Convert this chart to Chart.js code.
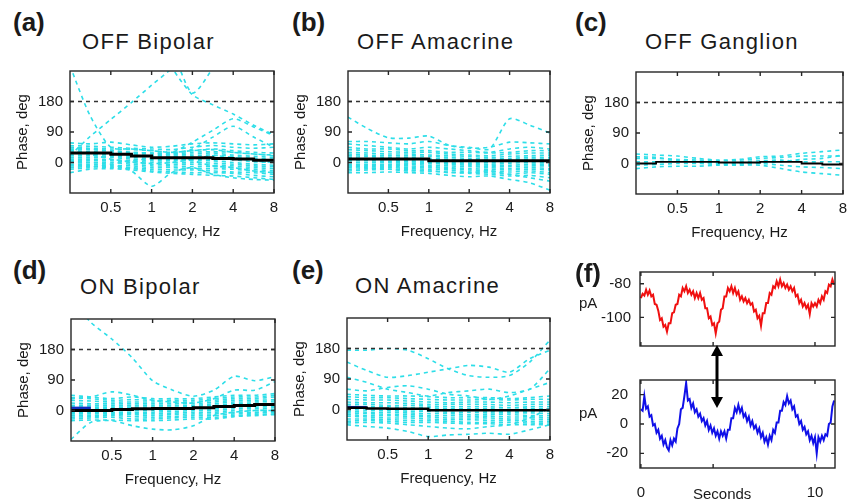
<!DOCTYPE html>
<html>
<head>
<meta charset="utf-8">
<script src="https://cdn.jsdelivr.net/npm/chart.js@4.4.1/dist/chart.umd.min.js"></script>
<style>
  body { margin: 0; width: 856px; height: 503px; background: #fff; overflow: hidden; position: relative;
         font-family: 'Liberation Sans', Arial, sans-serif; color: #1a1a1a; }
  canvas { position: absolute; }
  .lbl { position: absolute; line-height: 1; white-space: nowrap; }
  .tag { font-weight: bold; font-size: 26px; }
  .ttl { font-size: 22px; letter-spacing: 1.3px; }
  .unit { font-size: 15px; }
  svg { position: absolute; z-index: 5; }
</style>
</head>
<body>

<div class="lbl tag" style="left:13px;top:9px">(a)</div>
<div class="lbl ttl" style="left:82px;top:31px">OFF Bipolar</div>
<div class="lbl tag" style="left:292px;top:9px">(b)</div>
<div class="lbl ttl" style="left:357px;top:31px">OFF Amacrine</div>
<div class="lbl tag" style="left:575px;top:9px">(c)</div>
<div class="lbl ttl" style="left:645px;top:31px">OFF Ganglion</div>
<div class="lbl tag" style="left:13px;top:257px">(d)</div>
<div class="lbl ttl" style="left:80px;top:276px">ON Bipolar</div>
<div class="lbl tag" style="left:292px;top:257px">(e)</div>
<div class="lbl ttl" style="left:355px;top:275px">ON Amacrine</div>

<canvas id="chart-a" width="286" height="198" style="left:0px;top:55px"></canvas>
<canvas id="chart-b" width="284" height="198" style="left:278px;top:55px"></canvas>
<canvas id="chart-c" width="289" height="198" style="left:566px;top:56px"></canvas>
<canvas id="chart-d" width="286" height="198" style="left:1px;top:303px"></canvas>
<canvas id="chart-e" width="285" height="198" style="left:277px;top:302px"></canvas>
<canvas id="chart-f1" width="285" height="110" style="left:560px;top:254px"></canvas>
<canvas id="chart-f2" width="285" height="144" style="left:560px;top:359px"></canvas>

<div class="lbl tag" style="left:575px;top:260px;z-index:3">(f)</div>
<div class="lbl unit" style="left:579px;top:295px">pA</div>
<div class="lbl unit" style="left:579px;top:405px">pA</div>
<div class="lbl unit" style="left:693px;top:486px">Seconds</div>

<svg width="24" height="75" style="left:705px;top:340px">
  <line x1="12" y1="14" x2="12" y2="59" stroke="#000" stroke-width="3"/>
  <polygon points="12,5 6,16 18,16" fill="#000"/>
  <polygon points="12,68 6,57 18,57" fill="#000"/>
</svg>

<script>
/* ── DATA ─────────────────────────────────────────────────────── */
// frequency grid of the phase curves (Hz) and axis ticks
const freqs      = [0.25, 0.35, 0.5, 0.71, 1, 1.41, 2, 2.83, 4, 5.66, 8];
const freqTicks  = [0.5, 1, 2, 4, 8];
const phaseTicks = [0, 90, 180];
const refPhase   = 180;

// (a) OFF Bipolar
const offBipolarMean = [28, 28, 24, 19, 14, 14, 14, 12, 10, 7, 5];
const offBipolarTraces = [
  [58, 55, 60, 52, 45, 48, 55, 58, 55, 52, 55],
  [50, 48, 45, 42, 40, 38, 45, 50, 45, 42, 45],
  [45, 42, 40, 38, 35, 30, 35, 40, 35, 30, 28],
  [40, 38, 35, 30, 28, 25, 30, 32, 30, 25, 20],
  [35, 32, 30, 28, 25, 22, 25, 28, 22, 18, 15],
  [30, 30, 28, 25, 20, 18, 20, 22, 18, 12, 10],
  [25, 25, 22, 20, 15, 15, 15, 15, 12, 8, 5],
  [20, 20, 18, 15, 10, 10, 10, 10, 8, 2, 0],
  [15, 15, 15, 10, 5, 5, 5, 5, 0, -5, -8],
  [10, 10, 8, 5, 0, 0, 0, -2, -5, -10, -12],
  [5, 5, 5, 0, -5, -5, -5, -8, -10, -15, -18],
  [0, 0, 0, -5, -10, -10, -12, -12, -15, -20, -25],
  [-5, -5, -8, -10, -15, -15, -18, -18, -20, -25, -30],
  [-10, -10, -12, -15, -20, -22, -22, -25, -28, -30, -35],
  [-15, -12, -15, -18, -25, -28, -30, -30, -32, -38, -42],
  [-30, -20, -18, -22, -28, -32, -35, -38, -40, -45, -50],
  [40, 25, 10, 2, -3, 0, 10, 20, 15, 5, 0],
  [-20, -15, -5, 5, 12, 15, 5, -10, -15, -25, -30],
  [285, 140, 45, 40, 35, 30, 35, 38, 30, 25, 22],
  [20, 76, 127, 177, 228, 278, 340, 400, 400, 400, 400],
  [400, 400, 400, 400, 380, 280, 200, 170, 143, 110, 82],
  [400, 400, 400, 400, 400, 330, 205, 280, 400, 400, 400],
  [45, 40, 35, 30, 28, 30, 60, 95, 129, 105, 79],
  [30, 28, 25, 20, 20, 25, 40, 75, 107, 75, 45],
  [5, 0, -5, -25, -70, -30, -15, -35, -45, -50, -52]
];

// (b) OFF Amacrine
const offAmacrineMean = [10, 10, 10, 10, 5, 5, 5, 5, 5, 5, 5];
const offAmacrineTraces = [
  [55, 50, 45, 40, 45, 40, 35, 30, 40, 45, 40],
  [45, 40, 40, 35, 35, 30, 30, 28, 30, 35, 35],
  [38, 35, 32, 30, 30, 25, 22, 20, 25, 28, 28],
  [30, 28, 25, 25, 22, 20, 18, 15, 18, 20, 22],
  [25, 22, 20, 20, 18, 15, 12, 10, 12, 15, 15],
  [20, 18, 15, 15, 12, 10, 8, 5, 8, 10, 10],
  [15, 12, 12, 10, 8, 5, 2, 0, 2, 5, 5],
  [10, 8, 8, 5, 3, 0, -2, -5, -2, 0, 0],
  [5, 5, 3, 2, 0, -3, -5, -8, -8, -5, -5],
  [0, 0, 0, -2, -3, -5, -8, -12, -12, -10, -10],
  [-5, -5, -5, -5, -8, -10, -12, -15, -18, -15, -18],
  [-10, -8, -8, -10, -12, -15, -18, -20, -22, -20, -22],
  [-15, -12, -12, -14, -15, -18, -22, -25, -28, -25, -30],
  [-20, -18, -15, -18, -20, -22, -28, -30, -35, -30, -35],
  [-25, -22, -20, -22, -25, -28, -32, -35, -40, -38, -45],
  [134, 100, 73, 72, 78, 51, 45, 40, 129, 110, 87],
  [62, 62, 58, 55, 62, 50, 42, 45, 60, 58, 55],
  [-30, -30, -28, -30, -32, -38, -42, -40, -50, -60, -82],
  [-10, -15, -20, -25, -25, -30, -30, -25, -35, -45, -55]
];

// (c) OFF Ganglion
const offGanglionMean = [0, 5, 5, 5, 3, 3, 5, 5, 0, -3, -5];
const offGanglionTraces = [
  [28, 25, 22, 15, 10, 12, 20, 22, 30, 35, 40],
  [15, 15, 12, 10, 8, 10, 15, 18, 22, 22, 22],
  [5, 5, 8, 5, 2, 5, 8, 10, 5, 5, 5],
  [-5, -3, 0, 0, -3, -2, 0, -5, -10, -12, -15],
  [-15, -10, -8, -8, -5, -5, -5, -15, -25, -30, -35],
  [20, 18, 10, 5, 0, 0, 2, 5, 12, 15, 25]
];

// (d) ON Bipolar
const onBipolarMean = [0, 0, 3, 5, 6, 6, 8, 12, 15, 18, 20];
const onBipolarEarly = [7, 7];
const onBipolarTraces = [
  [45, 40, 35, 40, 35, 35, 35, 40, 45, 45, 50],
  [38, 35, 30, 32, 30, 30, 30, 35, 40, 40, 45],
  [30, 28, 25, 25, 25, 25, 25, 30, 35, 35, 40],
  [22, 20, 20, 20, 20, 20, 20, 25, 30, 30, 32],
  [15, 15, 15, 15, 15, 15, 15, 20, 25, 25, 28],
  [10, 10, 10, 10, 10, 10, 12, 15, 20, 20, 22],
  [5, 5, 5, 5, 5, 5, 8, 10, 15, 15, 18],
  [0, 0, 0, 0, 0, 2, 5, 5, 10, 10, 12],
  [-5, -5, -5, -5, -5, -3, 0, 0, 5, 5, 8],
  [-10, -10, -8, -8, -10, -8, -5, -5, 0, 0, 2],
  [-15, -15, -12, -12, -15, -12, -10, -10, -5, -5, -3],
  [-20, -18, -15, -18, -20, -18, -15, -15, -10, -8, -5],
  [-25, -22, -20, -25, -25, -22, -20, -20, -15, -12, -10],
  [-30, -28, -28, -30, -30, -28, -25, -25, -18, -15, -12],
  [330, 260, 211, 155, 88, 60, 42, 60, 101, 88, 100],
  [35, 40, 55, 45, 30, 25, 22, 35, 60, 60, 85],
  [-85, -35, -30, -45, -55, -57, -45, -15, -5, 0, 0]
];

// (e) ON Amacrine
const onAmacrineMean = [5, 3, 2, 2, -2, -2, -2, -2, -2, -2, -2];
const onAmacrineEarly = [6, 6];
const onAmacrineTraces = [
  [45, 42, 40, 40, 38, 35, 35, 35, 32, 35, 40],
  [38, 35, 35, 32, 30, 28, 28, 30, 28, 30, 30],
  [30, 28, 28, 25, 22, 20, 22, 22, 20, 22, 22],
  [22, 20, 20, 18, 15, 15, 15, 15, 12, 15, 15],
  [15, 15, 12, 12, 10, 8, 8, 8, 5, 8, 8],
  [10, 8, 8, 5, 5, 2, 2, 2, 0, 2, 2],
  [5, 3, 2, 0, 0, -3, -3, -5, -5, -5, -5],
  [0, -2, -3, -5, -5, -8, -8, -10, -10, -10, -12],
  [-5, -8, -8, -10, -12, -12, -15, -15, -15, -18, -18],
  [-10, -12, -14, -15, -18, -18, -20, -20, -22, -22, -25],
  [-15, -18, -18, -20, -22, -25, -25, -25, -28, -28, -30],
  [-20, -22, -25, -25, -28, -30, -30, -32, -32, -35, -35],
  [-28, -28, -30, -32, -33, -35, -38, -38, -38, -40, -40],
  [-35, -32, -35, -38, -38, -40, -42, -42, -45, -45, -45],
  [175, 175, 180, 175, 150, 120, 100, 95, 100, 140, 205],
  [140, 115, 95, 100, 110, 120, 130, 125, 110, 150, 175],
  [95, 80, 60, 50, 40, 50, 55, 60, 50, 60, 120],
  [60, 55, 65, 70, 60, 45, 40, 30, 40, 60, 80],
  [-45, -50, -55, -65, -80, -75, -73, -70, -73, -60, -45],
  [-40, -38, -40, -45, -50, -55, -57, -50, -45, -25, 5]
];

// (f) recorded currents, one sample every 0.1 s
const sampleStep = 0.1;
const timeTicks  = [0, 4.15, 10];
const topTicks   = [-100, -80];
const botTicks   = [-20, 0, 20];
const redTrace = [
  -88.5, -86, -87, -83.5, -86.5, -84, -87.5, -86.5, -92, -92.5,
  -96, -101.5, -100.5, -105.5, -104.5, -108.5, -103.5, -103.5, -97.5, -97,
  -92.5, -92, -86.5, -87.5, -82.5, -84.5, -81.5, -85.5, -83.5, -86.5,
  -84.5, -88.5, -85.5, -88.5, -85.5, -89.5, -88.5, -94.5, -94.5, -100.5,
  -99.5, -104.5, -103.5, -109.5, -103.5, -102.5, -95.5, -94.5, -87.5, -87.5,
  -82.5, -84.5, -81.5, -85.5, -82.5, -86.5, -84.5, -89.5, -87.5, -90.5,
  -88.5, -91.5, -89.5, -92.5, -91.5, -96.5, -95.5, -100.5, -99, -105,
  -97.5, -97.5, -91.5, -91.5, -85.5, -86.5, -81.5, -82.5, -78.5, -81.5,
  -77.5, -81.5, -79.5, -82.5, -80.5, -83.5, -81.5, -84.5, -82.5, -87.5,
  -86.5, -91.5, -89.5, -93.5, -91.5, -94.5, -92.5, -98, -91.5, -93.5,
  -91.5, -93.5, -89.5, -91.5, -87.5, -89.5, -84.5, -85.5, -80.5, -81.5,
  -77.5, -80.5
];
const blueTrace = [
  10, 9, 19, 10.5, 12, 5, 6, -1, 0, -6,
  -4, -10, -8, -14, -11, -16, -18, -11, -14.5, -10,
  -12, -3, 0, 10, 11, 19, 28, 16, 17, 11,
  14, 8, 10, 5, 7, 2, 4, -1, 2, -4,
  -1, -6, -3, -8, -5, -10, -5, -8, -5, -10,
  -4, -4, 4, 4, 11, 8, 13, 8, 11, 5,
  7, 2, 5, -1, 2, -3, -1, -6, -3, -9,
  -6, -12, -9, -14, -8, -11, -4, -6, 1, 1,
  9, 9, 15, 13, 19, 14, 16, 10, 12, 5,
  6, 0, 2, -4, -2, -7, -5, -11, -8, -13,
  -9, -20, -9, -12, -8, -11, -7, -8, 0, 1,
  12, 16
];

/* ── STYLE ────────────────────────────────────────────────────── */
const ink  = '#1a1a1a';
const cyan = 'rgb(45, 222, 232)';
Chart.defaults.font.family = "'Liberation Sans', Arial, sans-serif";
Chart.defaults.font.size = 15;
Chart.defaults.color = ink;

// matlab-like box with inward tick marks on all four sides
const framePlugin = {
  id: 'frame',
  afterDatasetsDraw(chart) {
    const { ctx, chartArea: a, scales } = chart;
    const L = 4;
    ctx.save();
    ctx.strokeStyle = '#262626';
    ctx.lineWidth = 1.4;
    ctx.strokeRect(a.left, a.top, a.right - a.left, a.bottom - a.top);
    ctx.beginPath();
    scales.x.ticks.forEach(t => {
      const px = scales.x.getPixelForValue(t.value);
      ctx.moveTo(px, a.bottom); ctx.lineTo(px, a.bottom - L);
      ctx.moveTo(px, a.top);    ctx.lineTo(px, a.top + L);
    });
    scales.y.ticks.forEach(t => {
      const py = scales.y.getPixelForValue(t.value);
      ctx.moveTo(a.left, py);  ctx.lineTo(a.left + L, py);
      ctx.moveTo(a.right, py); ctx.lineTo(a.right - L, py);
    });
    ctx.stroke();
    ctx.restore();
  }
};

/* ── PHASE PANELS (a)–(e) ─────────────────────────────────────── */
function phaseChart(id, traces, mean, meanWidth, early) {
  const pts = arr => arr.map((y, i) => ({ x: freqs[i], y }));
  const datasets = [
    { data: pts(mean), borderColor: '#000', borderWidth: meanWidth, stepped: true, order: 0 },
    { data: [{ x: freqs[0], y: refPhase }, { x: freqs[freqs.length - 1], y: refPhase }],
      borderColor: '#333', borderWidth: 1.5, borderDash: [4, 4], order: 1 }
  ];
  if (early) datasets.push({ data: pts(early), borderColor: '#1030c0', borderWidth: 3, order: 0 });
  traces.forEach(t => datasets.push({
    data: pts(t), borderColor: cyan, borderWidth: 1.6, borderDash: [4, 4], tension: 0.25, order: 2
  }));

  new Chart(document.getElementById(id), {
    type: 'line',
    data: { datasets },
    options: {
      animation: false, responsive: false,
      layout: { padding: { top: 10, right: 12 } },
      elements: { point: { radius: 0 } },
      plugins: { legend: { display: false }, tooltip: { enabled: false } },
      scales: {
        x: {
          type: 'logarithmic', min: 0.25, max: 8,
          afterBuildTicks: s => { s.ticks = freqTicks.map(v => ({ value: v })); },
          afterFit: s => { s.height = 60; },
          grid: { display: false, drawTicks: false }, border: { display: false },
          ticks: { padding: 6, maxRotation: 0, autoSkip: false, callback: v => String(v) },
          title: { display: true, text: 'Frequency, Hz', padding: { top: 0, bottom: 12 } }
        },
        y: {
          min: -90, max: 270,
          afterBuildTicks: s => { s.ticks = phaseTicks.map(v => ({ value: v })); },
          afterFit: s => { s.width = 70; },
          grid: { display: false, drawTicks: false }, border: { display: false },
          ticks: { padding: 7 },
          title: { display: true, text: 'Phase, deg', padding: { top: 14, bottom: 0 } }
        }
      }
    },
    plugins: [framePlugin]
  });
}

phaseChart('chart-a', offBipolarTraces,  offBipolarMean,  3);
phaseChart('chart-b', offAmacrineTraces, offAmacrineMean, 3);
phaseChart('chart-c', offGanglionTraces, offGanglionMean, 1.8);
phaseChart('chart-d', onBipolarTraces,   onBipolarMean,   3, onBipolarEarly);
phaseChart('chart-e', onAmacrineTraces,  onAmacrineMean,  2.6, onAmacrineEarly);

/* ── CURRENT TRACES (f) ───────────────────────────────────────── */
function traceChart(id, values, color, yMin, yMax, yTicks, xHeight, showX, tickPad) {
  const data = values.map((y, i) => ({ x: i * sampleStep, y }));
  new Chart(document.getElementById(id), {
    type: 'line',
    data: { datasets: [{ data, borderColor: color, borderWidth: 2 }] },
    options: {
      animation: false, responsive: false,
      layout: { padding: { top: 10, right: 10 } },
      elements: { point: { radius: 0 } },
      plugins: { legend: { display: false }, tooltip: { enabled: false } },
      scales: {
        x: {
          type: 'linear', min: -0.05, max: 11.15,
          afterBuildTicks: s => { s.ticks = timeTicks.map(v => ({ value: v })); },
          afterFit: s => { s.height = xHeight; },
          grid: { display: false, drawTicks: false }, border: { display: false },
          ticks: { display: showX, padding: 16, maxRotation: 0, autoSkip: false,
                   callback: v => (v === 0 || v === 10) ? String(v) : '' }
        },
        y: {
          min: yMin, max: yMax,
          afterBuildTicks: s => { s.ticks = yTicks.map(v => ({ value: v })); },
          afterFit: s => { s.width = 80; },
          grid: { display: false, drawTicks: false }, border: { display: false },
          ticks: { padding: tickPad }
        }
      }
    },
    plugins: [framePlugin]
  });
}

traceChart('chart-f1', redTrace,  '#f01010', -117, -73, topTicks, 2,  false, 9);
traceChart('chart-f2', blueTrace, '#1010e8', -30,  30,  botTicks, 35, true,  12);
</script>
</body>
</html>
